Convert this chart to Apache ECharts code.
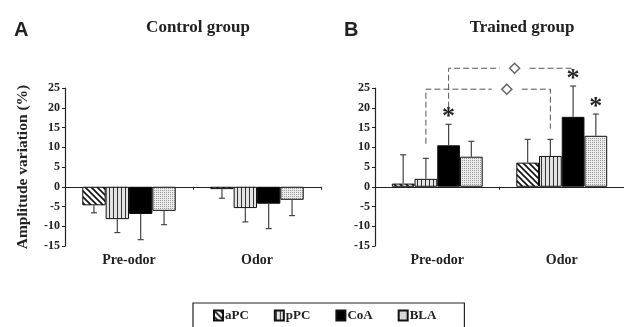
<!DOCTYPE html>
<html>
<head>
<meta charset="utf-8">
<script src="https://cdn.jsdelivr.net/npm/echarts@6/dist/echarts.min.js"></script>
<style>
  html, body { margin: 0; padding: 0; background: #fff; }
  #chart { width: 624px; height: 327px; }
</style>
</head>
<body>
<div id="chart"></div>
<script>
// data
var groups = ['Pre-odor', 'Odor'];
var regions = ['aPC', 'pPC', 'CoA', 'BLA'];
// control group, one row per region: [Pre-odor, Odor]
var ctrlMean = [[-4.7, -0.6], [-8.2, -5.4], [-6.9, -4.3], [-6.1, -3.3]];
var ctrlErr  = [[1.9, 2.3], [3.4, 3.5], [6.5, 6.3], [3.5, 4.0]];
// trained group
var trainMean = [[0.8, 6.1], [2.0, 7.8], [10.5, 17.7], [7.6, 12.9]];
var trainErr  = [[7.3, 5.9], [5.2, 4.2], [5.3, 7.8], [3.9, 5.5]];
var trainStar = [[0, 0], [0, 0], [1, 1], [0, 1]];
// brackets: [fromGroup, toGroup, region, level, leftEnd, rightEnd, diamond position]
var brackets = [[0, 1, 2, 30, 20, 29, 0.53], [0, 1, 1, 24.7, 10.9, 14.7, 0.65]];
var yTicks = { min: -15, max: 25, step: 5 };

var SERIF = 'Liberation Serif';
var GAP = 0.27;

function pattern(w, h, draw) {
	var c = document.createElement('canvas');
	c.width = w; c.height = h;
	var ctx = c.getContext('2d');
	draw(ctx);
	return { image: c, repeat: 'repeat' };
}
var fills = [
	pattern(6, 6, function (ctx) {
		ctx.fillStyle = '#fff'; ctx.fillRect(0, 0, 6, 6);
		ctx.strokeStyle = '#111'; ctx.lineWidth = 1.6;
		ctx.beginPath();
		ctx.moveTo(-1, -1); ctx.lineTo(7, 7);
		ctx.moveTo(-1, 5); ctx.lineTo(1, 7);
		ctx.moveTo(5, -1); ctx.lineTo(7, 1);
		ctx.stroke();
	}),
	pattern(4, 4, function (ctx) {
		ctx.fillStyle = '#e4e4e4'; ctx.fillRect(0, 0, 4, 4);
		ctx.fillStyle = '#333'; ctx.fillRect(1, 0, 1, 4);
	}),
	'#000',
	pattern(4, 4, function (ctx) {
		ctx.fillStyle = '#ececec'; ctx.fillRect(0, 0, 4, 4);
		ctx.fillStyle = '#999';
		ctx.fillRect(0, 0, 1, 1); ctx.fillRect(2, 2, 1, 1);
		ctx.fillRect(2, 0, 1, 1); ctx.fillRect(0, 2, 1, 1);
	})
];

// x position of a region's bar inside its category band
function barX(api, cat, r) {
	var c = api.coord([cat, 0])[0];
	var band = api.size([1, 0])[0];
	var gw = band * (1 - GAP);
	var bw = gw / regions.length;
	return c - gw / 2 + bw * (r + 0.5);
}

function errRender(params, api) {
	var cat = api.value(0), r = api.value(1);
	var m = api.value(2), e = api.value(3), star = api.value(4);
	var x = barX(api, cat, r);
	var sign = m < 0 ? -1 : 1;
	var y0 = api.coord([cat, m])[1];
	var y1 = api.coord([cat, m + sign * e])[1];
	var kids = [
		{ type: 'line', shape: { x1: x, y1: y0, x2: x, y2: y1 }, style: { stroke: '#444', lineWidth: 1.2 } },
		{ type: 'line', shape: { x1: x - 3, y1: y1, x2: x + 3, y2: y1 }, style: { stroke: '#444', lineWidth: 1.2 } }
	];
	if (star) {
		kids.push({ type: 'text', x: x, y: y1 - 7, style: {
			text: '*', fontFamily: SERIF, fontWeight: 'bold', fontSize: 26,
			fill: '#222', align: 'center', verticalAlign: 'middle' } });
	}
	return { type: 'group', children: kids };
}

function bracketRender(params, api) {
	var c0 = api.value(0), c1 = api.value(1), r = api.value(2);
	var lvl = api.coord([c0, api.value(3)])[1];
	var yl = api.coord([c0, api.value(4)])[1];
	var yr = api.coord([c1, api.value(5)])[1];
	var xl = barX(api, c0, r), xr = barX(api, c1, r);
	var xd = xl + (xr - xl) * api.value(6);
	var ls = { stroke: '#555', lineWidth: 1, lineDash: [6, 3], fill: null };
	return { type: 'group', children: [
		{ type: 'polyline', shape: { points: [[xl, yl], [xl, lvl], [xd - 15, lvl]] }, style: ls },
		{ type: 'polyline', shape: { points: [[xd + 15, lvl], [xr, lvl], [xr, yr]] }, style: ls },
		{ type: 'polygon', shape: { points: [[xd, lvl - 5], [xd + 5, lvl], [xd, lvl + 5], [xd - 5, lvl]] },
			style: { stroke: '#666', lineWidth: 1.5, fill: '#fff' } }
	] };
}

function errData(mean, err, star) {
	var out = [];
	for (var r = 0; r < regions.length; r++) {
		for (var g = 0; g < groups.length; g++) {
			out.push([g, r, mean[r][g], err[r][g], star ? star[r][g] : 0]);
		}
	}
	return out;
}

var yBase = {
	type: 'value', min: yTicks.min, max: yTicks.max, interval: yTicks.step,
	splitLine: { show: false },
	axisLine: { show: true, lineStyle: { color: '#222', width: 1.2 } },
	axisTick: { show: true, length: 3, lineStyle: { color: '#222' } },
	axisLabel: { fontFamily: SERIF, fontWeight: 'bold', fontSize: 12, color: '#222', margin: 5 }
};

var xLine = {
	type: 'category', data: groups,
	axisLine: { onZero: true, lineStyle: { color: '#222', width: 1.2 } },
	axisTick: { show: true, length: 3, lineStyle: { color: '#222' } },
	axisLabel: { show: false }
};
var xText = {
	type: 'category', data: groups, position: 'bottom',
	axisLine: { show: false, onZero: false }, axisTick: { show: false },
	axisLabel: { fontFamily: SERIF, fontWeight: 'bold', fontSize: 14, color: '#222', margin: 7 }
};

var series = [];
[ctrlMean, trainMean].forEach(function (mean, p) {
	regions.forEach(function (name, r) {
		series.push({
			type: 'bar', name: name, xAxisIndex: p * 2, yAxisIndex: p,
			data: mean[r], barGap: '0%', barCategoryGap: (GAP * 100) + '%',
			itemStyle: { color: fills[r], borderColor: '#111', borderWidth: 1 },
			emphasis: { disabled: true }
		});
	});
});
series.push({ type: 'custom', xAxisIndex: 0, yAxisIndex: 0, renderItem: errRender,
	data: errData(ctrlMean, ctrlErr), z: 5, encode: { x: 0, y: 2 } });
series.push({ type: 'custom', xAxisIndex: 2, yAxisIndex: 1, renderItem: errRender,
	data: errData(trainMean, trainErr, trainStar), z: 5, encode: { x: 0, y: 2 } });
series.push({ type: 'custom', xAxisIndex: 2, yAxisIndex: 1, renderItem: bracketRender,
	data: brackets, z: 6, encode: { x: 0, y: 3 } });

var titleFont = { fontFamily: SERIF, fontWeight: 'bold', fontSize: 17, color: '#222' };
var letterFont = { fontFamily: 'Liberation Sans', fontWeight: 'bold', fontSize: 20, color: '#222' };

var chart = echarts.init(document.getElementById('chart'), null, { renderer: 'canvas' });
chart.setOption({
	animation: false,
	backgroundColor: '#fff',
	title: [
		{ text: 'A', left: 9, top: 15, textStyle: letterFont },
		{ text: 'Control group', left: 193, top: 14, textAlign: 'center', textStyle: titleFont },
		{ text: 'B', left: 339, top: 15, textStyle: letterFont },
		{ text: 'Trained group', left: 517, top: 14, textAlign: 'center', textStyle: titleFont }
	],
	legend: {
		data: regions, left: 193, top: 303,
		padding: [6, 28, 14, 20], itemGap: 25,
		itemWidth: 9, itemHeight: 10, icon: 'rect',
		borderColor: '#222', borderWidth: 1.2,
		textStyle: { fontFamily: SERIF, fontWeight: 'bold', fontSize: 13, color: '#222', padding: [0, 0, 0, -3] }
	},
	grid: [
		{ left: 65, top: 88, width: 256, height: 158 },
		{ left: 375, top: 88, width: 252, height: 158 }
	],
	xAxis: [
		Object.assign({ gridIndex: 0 }, xLine),
		Object.assign({ gridIndex: 0 }, xText),
		Object.assign({ gridIndex: 1 }, xLine),
		Object.assign({ gridIndex: 1 }, xText)
	],
	yAxis: [
		Object.assign({ gridIndex: 0, name: 'Amplitude variation (%)', nameLocation: 'middle',
			nameGap: 34, nameRotate: 90,
			nameTextStyle: { fontFamily: SERIF, fontWeight: 'bold', fontSize: 15.5, color: '#222' } }, yBase),
		Object.assign({ gridIndex: 1 }, yBase)
	],
	series: series
});
</script>
</body>
</html>
